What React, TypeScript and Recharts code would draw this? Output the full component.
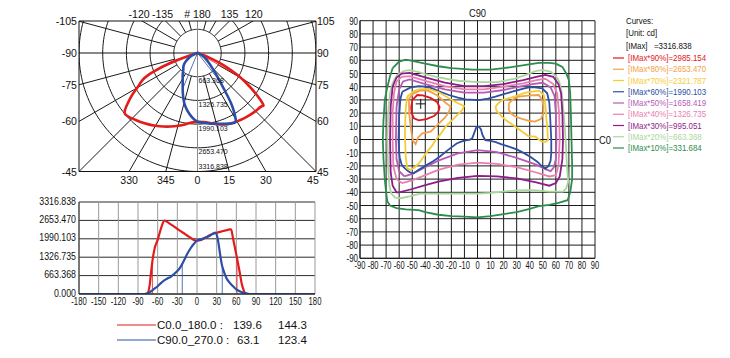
import React from 'react';
import { ComposedChart, Line, XAxis, YAxis, CartesianGrid, ReferenceLine, ReferenceDot, Scatter } from 'recharts';

const FONT = '"Liberation Sans", Arial, sans-serif';
const IMAX = 3316.838;
const RING_VALUES = [663.368, 1326.735, 1990.103, 2653.47, 3316.838];

// ---- photometric data (gamma angle in degrees, intensity in cd) ----
const c0Angles = [-180, -90, -80, -76, -72, -70, -67, -64, -60, -57, -53, -50, -45, -40, -35, -30, -25, -20, -15, -10, -5, 0, 5, 10, 15, 20, 25, 30, 35, 40, 45, 50, 52, 55, 58, 61, 65, 68, 71, 74, 80, 90, 180];
const c0Values = [0, 0, 0, 20, 350, 800, 1350, 1700, 1950, 2200, 2500, 2650, 2590, 2510, 2430, 2350, 2270, 2190, 2110, 2030, 1950, 1925, 1940, 1990, 2060, 2130, 2180, 2210, 2240, 2270, 2300, 2330, 2330, 2000, 1650, 1300, 800, 400, 150, 20, 0, 0, 0];
const c90Angles = [-180, -90, -80, -75, -70, -65, -60, -55, -50, -45, -40, -35, -30, -25, -20, -15, -10, -5, 0, 5, 10, 15, 20, 25, 28, 30, 33, 35, 38, 40, 45, 50, 55, 60, 65, 70, 75, 80, 90, 180];
const c90Values = [0, 0, 0, 30, 100, 190, 280, 390, 490, 560, 620, 720, 830, 980, 1200, 1440, 1640, 1800, 1925, 1960, 2010, 2050, 2110, 2180, 2210, 2140, 1800, 1470, 1050, 880, 570, 400, 280, 170, 100, 50, 20, 0, 0, 0];

const c0BeamAngles = [-68, 61];
const c0BeamValues = [1200, 1300];
const c90BeamAngles = [-22.5, 38.5];
const c90BeamValues = [1100, 1010];

const planeNames = ['C0.0_180.0 :', 'C90.0_270.0 :'];
const beamAngleText = ['139.6', '63.1'];
const fieldAngleText = ['144.3', '123.4'];

// polar frame labels
const polarBottomAngles = [-30, -15, 0, 15, 30, 45];
const polarBottomLabels = ['330', '345', '0', '15', '30', '45'];
const polarSideAngles = [45, 60, 75, 90, 105];
const polarLeftLabels = ['-45', '-60', '-75', '-90', '-105'];
const polarRightLabels = ['45', '60', '75', '90', '105'];
const polarTopAngles = [-120, -135, 180, 135, 120];
const polarTopLabels = ['-120', '-135', '# 180', '135', '120'];

// linear chart ticks
const linearXTicks = [-180, -150, -120, -90, -60, -30, 0, 30, 60, 90, 120, 150, 180];
const linearYTicks = [0, ...RING_VALUES];

// iso-candela contours: [C-angle, gamma] pairs
const contourTicks = [-90, -80, -70, -60, -50, -40, -30, -20, -10, 0, 10, 20, 30, 40, 50, 60, 70, 80, 90];
const levelNames = ['[IMax*90%]=2985.154', '[IMax*80%]=2653.470', '[IMax*70%]=2321.787', '[IMax*60%]=1990.103', '[IMax*50%]=1658.419', '[IMax*40%]=1326.735', '[IMax*30%]=995.051', '[IMax*20%]=663.368', '[IMax*10%]=331.684'];
const levelColors = ['#e3141b', '#f2a14a', '#f4cc38', '#2e4fa3', '#b65bb8', '#e97fb0', '#8e1c8c', '#a9d79b', '#2c8c4e'];

const red90L = [[-50, 29.9], [-46.1, 33.7], [-42, 33.5], [-36, 31.5], [-31, 28.5], [-29, 24.5], [-30, 21], [-33, 18], [-39, 15.5], [-45, 14.5], [-48.7, 16], [-50.4, 19.8], [-50.8, 24], [-50, 29.9]];
const orange80L = [[-52.5, 31], [-49, 35], [-44, 37], [-38, 37], [-31, 33.5], [-24, 27.5], [-20.6, 24.9], [-22, 20.5], [-25, 16.5], [-29.5, 12.2], [-35.9, 5.9], [-42.3, 4.6], [-45.5, 1.5], [-47.4, -3.5], [-49.4, -1], [-50.5, 5], [-51.5, 12], [-52.3, 20], [-52.5, 31]];
const orange80R = [[24, 27.4], [28, 31], [31.7, 32.4], [40, 33.5], [47, 33.7], [49.5, 29.9], [50.5, 25], [50.5, 19.8], [48.5, 15.5], [44, 13.5], [39.3, 14.2], [33, 16], [29.1, 17.3], [26, 19.5], [24, 22.3], [24, 27.4]];
const yellow70L = [[-53.8, 32.4], [-49, 36.5], [-44.8, 38], [-38, 38.3], [-30, 36], [-21.9, 31.2], [-15, 27.5], [-10.4, 25.4], [-11.5, 22.5], [-14.2, 19.8], [-19, 15], [-24.4, 9.7], [-28, 4.5], [-32, -0.4], [-35, -5], [-38.5, -9.2], [-41.5, -13.5], [-44.8, -18], [-48, -21], [-51.2, -23.1], [-53.8, -21.9], [-55, -13], [-55.6, 4.6], [-55.3, 15], [-55, 22.3], [-54.5, 28], [-53.8, 32.4]];
const yellow70R = [[13.8, 24.9], [16, 27.5], [18.9, 29.9], [25, 31.5], [30, 33], [36.8, 35.5], [43, 36.5], [47, 37], [50.8, 33.7], [52.1, 24.9], [52.8, 15], [53.4, 9.7], [53.8, 3], [54.1, -0.4], [52, -1.7], [49.2, -1.6], [44.4, 2.1], [38.9, 2.6], [34, 6], [29.1, 9.7], [25, 12.5], [21.5, 14.8], [18.5, 17.5], [16.4, 19.8], [14.5, 22], [13.8, 24.9]];
const blue60 = [[-57.6, 36.2], [-51.2, 39.5], [-44.8, 40.5], [-40, 40], [-34.6, 38.7], [-28, 36], [-21.9, 33.7], [-15, 31.8], [-9.1, 30.4], [1, 29.9], [8, 31], [13.8, 32.4], [20, 34.3], [26.6, 36.2], [33, 38], [39.3, 39.5], [44, 39.5], [49.5, 38.7], [53.4, 35], [55, 28], [55.5, 20], [56, 10], [56.5, 0], [56.5, -10], [56, -16], [54.5, -20], [52, -22], [49, -20], [46, -17], [41, -13.5], [36, -10.5], [30, -7.5], [24, -5.4], [18, -3.5], [14, -2], [10, -1], [6, -0.5], [4, 3], [2.5, 8], [1, 9.7], [-1, 9], [-2.5, 5], [-4, 1], [-6, -0.2], [-8, -0.4], [-12, -1.5], [-16, -3], [-22, -7.5], [-29, -13], [-34, -16.5], [-40, -20], [-45, -23], [-49, -25.6], [-51.5, -25], [-53, -24], [-56, -21.5], [-58, -19.3], [-59.5, -14], [-60, -10], [-60.5, 0], [-60.2, 10], [-60, 18], [-59.5, 25], [-59, 31], [-57.6, 36.2]];
const violet50 = [[-56, -28], [-50, -26], [-40, -21], [-30, -16], [-15, -10.5], [0, -8], [15, -9.5], [30, -14], [45, -19], [52, -22.5], [56, -24], [58.5, -21], [60, -15], [60.5, 0], [60, 20], [59, 33], [56, 39.5], [50, 43], [42, 42], [32, 40], [20, 37.5], [5, 35.5], [-10, 35.5], [-25, 38], [-40, 42], [-52, 45.5], [-57, 44], [-60, 38], [-62, 25], [-62.5, 0], [-62, -15], [-60, -24], [-56, -28]];
const pink40 = [[-58, -33], [-50, -31], [-40, -27], [-30, -23], [-15, -19], [0, -17.5], [15, -18.5], [30, -21], [45, -25], [55, -28], [60, -27], [62, -20], [63, 0], [62.5, 20], [61, 35], [58, 42], [52, 46], [45, 45], [35, 42.5], [20, 40], [5, 38], [-10, 38], [-25, 40.5], [-40, 44.5], [-52, 48], [-58, 47.5], [-62, 44], [-64, 35], [-65, 20], [-65, 0], [-64.5, -20], [-62, -30], [-58, -33]];
const purple30 = [[-60, -40], [-50, -37.5], [-40, -34.5], [-30, -32], [-15, -29], [0, -27.5], [15, -28], [30, -29.5], [45, -32.5], [55, -35], [60, -33], [63, -28], [65, -15], [65.5, 0], [65, 20], [64, 35], [62, 42], [58, 47.5], [52, 49], [45, 47.5], [35, 45], [20, 42], [5, 40.5], [-10, 40.5], [-25, 43], [-40, 47], [-52, 50.5], [-58, 50], [-62, 47], [-65, 40], [-66.5, 25], [-67, 0], [-66.5, -25], [-65, -35], [-62, -40], [-60, -40]];
const lightGreen20 = [[-64, 45], [-61.5, 49], [-56, 52], [-52, 52.5], [-45, 51], [-40, 49.5], [-30, 47], [-15, 44.5], [0, 43.5], [15, 43.5], [28, 46], [37, 49], [45, 52], [50, 52.5], [56, 51.5], [60, 48], [62.5, 44], [64.5, 36], [66, 20], [67.5, 0], [68.5, -20], [69.5, -32], [68, -37], [65.5, -39.5], [55, -39.5], [45, -38.5], [39, -38.3], [30, -38.5], [20, -39.5], [10, -40.5], [0, -41], [-20, -41], [-44, -41], [-52, -43], [-59, -44.5], [-63, -44], [-66, -41], [-67.5, -35], [-68.5, -20], [-69, 0], [-68.5, 20], [-67, 35], [-65.5, 41], [-64, 45]];
const green10 = [[-65, 54], [-60, 59], [-55, 60.5], [-50, 59.5], [-40, 57.5], [-30, 55.5], [-20, 54], [-4, 53], [10, 53], [20, 54], [37, 56.5], [47, 58], [55, 58], [60, 57.5], [65, 55], [68, 50], [70, 45], [71, 35], [71.5, 20], [72, 0], [72.5, -20], [72.5, -30], [71, -40], [69, -46], [62, -48], [55, -49.5], [47, -50.5], [40, -52.5], [30, -55], [20, -56.5], [10, -58], [0, -59], [-10, -58.5], [-20, -58], [-30, -57], [-40, -55], [-45, -53.5], [-55, -53], [-62, -52], [-67, -50], [-69, -47], [-70, -40], [-71, -30], [-72, -15], [-72.5, 0], [-72, 15], [-71, 30], [-69, 40], [-67, 48], [-65, 54]];
const imaxPoint = [{ x: -43.5, y: 27 }];

const contourSeries: { pts: number[][]; level: number }[] = [
  { pts: green10, level: 8 },
  { pts: lightGreen20, level: 7 },
  { pts: purple30, level: 6 },
  { pts: pink40, level: 5 },
  { pts: violet50, level: 4 },
  { pts: blue60, level: 3 },
  { pts: yellow70L, level: 2 },
  { pts: yellow70R, level: 2 },
  { pts: orange80L, level: 1 },
  { pts: orange80R, level: 1 },
  { pts: red90L, level: 0 },
];

// ---- helpers ----
const RED = '#e41b1b';
const BLUE = '#2b4ea6';
const rad = (d: number) => (d * Math.PI) / 180;
const polarPt = (g: number, v: number) => ({ x: v * Math.sin(rad(g)), y: -v * Math.cos(rad(g)) });

type TickOpts = { labels: string[]; anchor?: 'start' | 'middle' | 'end'; dx?: number; dy?: number; size?: number; sx?: number; shifts?: number[] };
const makeTick = (o: TickOpts) => (p: any) => (
  <g transform={`translate(${p.x + (o.dx ?? 0) + (o.shifts?.[p.index] ?? 0)},${p.y + (o.dy ?? 0)})`}>
    <text transform={`scale(${o.sx ?? 1},1)`} textAnchor={o.anchor ?? 'middle'} fontSize={o.size ?? 11} fontFamily={FONT} fill="#111">
      {o.labels[p.index] ?? ''}
    </text>
  </g>
);

// ---- polar chart geometry ----
const P_W = 340, P_H = 190, P_LEFT = 79, P_RIGHT = 24, P_TOP = 21, P_BOTTOM = 18.5;
const P_PLOT_W = P_W - P_LEFT - P_RIGHT;
const P_PLOT_H = P_H - P_TOP - P_BOTTOM;
const Y_TOP = IMAX * (P_PLOT_H / (P_PLOT_W / 2)) - IMAX;

const polarBottomTicks = polarBottomAngles.map((a) => IMAX * Math.tan(rad(a)));
const polarSideTicks = polarSideAngles.map((a) => -IMAX / Math.tan(rad(a)));
const polarTopTicks = polarTopAngles.map((a) => (Math.abs(a) === 180 ? 0 : Math.sign(a) * Y_TOP * Math.tan(rad(180 - Math.abs(a)))));

const ringData = RING_VALUES.map((r) => Array.from({ length: 181 }, (_, i) => ({ x: r * Math.cos(rad(i * 2)), y: r * Math.sin(rad(i * 2)) })));
const spokeAngles = [15, 30, 45, 60, 75, 105, 120, 135, 150, 165].flatMap((a) => [a, -a]);
const spokeData = spokeAngles.map((a) => [polarPt(a, RING_VALUES[0]), polarPt(a, IMAX * 3)]);

const c0Polar = c0Angles.filter((g) => Math.abs(g) <= 90).map((g) => polarPt(g, c0Values[c0Angles.indexOf(g)]));
const c90Polar = c90Angles.filter((g) => Math.abs(g) <= 90).map((g) => polarPt(g, c90Values[c90Angles.indexOf(g)]));
const beamPolar = [
  ...c0BeamAngles.map((g, i) => ({ color: RED, pts: [{ x: 0, y: 0 }, polarPt(g, c0BeamValues[i])] })),
  ...c90BeamAngles.map((g, i) => ({ color: BLUE, pts: [{ x: 0, y: 0 }, polarPt(g, c90BeamValues[i])] })),
];

function PolarChart() {
  return (
    <ComposedChart width={P_W} height={P_H} margin={{ top: 0, right: 0, bottom: 0, left: 0 }}>
      <XAxis type="number" dataKey="x" domain={[-IMAX, IMAX]} allowDataOverflow ticks={polarBottomTicks} interval={0} height={P_BOTTOM} tickSize={0} tickMargin={0} axisLine={{ stroke: '#111' }} tickLine={false} tick={makeTick({ labels: polarBottomLabels, dy: 12.5, size: 11.5, sx: 0.92, shifts: [0, 0, 0, 0, 0, -3] })} />
      <XAxis xAxisId="top" orientation="top" type="number" dataKey="x" domain={[-IMAX, IMAX]} allowDataOverflow ticks={polarTopTicks} interval={0} height={P_TOP} tickSize={0} tickMargin={0} axisLine={{ stroke: '#111' }} tickLine={false} tick={makeTick({ labels: polarTopLabels, dy: -3, size: 11.5, sx: 0.92, shifts: [-3, -3, 0, 0, 1] })} />
      <YAxis type="number" dataKey="y" domain={[-IMAX, Y_TOP]} allowDataOverflow ticks={polarSideTicks} interval={0} width={P_LEFT} tickSize={0} tickMargin={0} axisLine={{ stroke: '#111' }} tickLine={false} tick={makeTick({ labels: polarLeftLabels, anchor: 'end', dx: -2, dy: 4, size: 11.5, sx: 0.92 })} />
      <YAxis yAxisId="right" orientation="right" type="number" dataKey="y" domain={[-IMAX, Y_TOP]} allowDataOverflow ticks={polarSideTicks} interval={0} width={P_RIGHT} tickSize={0} tickMargin={0} axisLine={{ stroke: '#111' }} tickLine={false} tick={makeTick({ labels: polarRightLabels, anchor: 'start', dx: 1, dy: 4, size: 11.5, sx: 0.92 })} />
      {ringData.map((d, i) => (
        <Line key={`ring${i}`} data={d} dataKey="y" type="linear" dot={false} activeDot={false} stroke="#1a1a1a" strokeWidth={1} isAnimationActive={false} legendType="none" />
      ))}
      {spokeData.map((d, i) => (
        <Line key={`spoke${i}`} data={d} dataKey="y" type="linear" dot={false} activeDot={false} stroke="#1a1a1a" strokeWidth={1} isAnimationActive={false} legendType="none" />
      ))}
      <ReferenceLine y={0} stroke="#111" strokeWidth={1} />
      <ReferenceLine x={0} stroke="#8a8a8a" strokeWidth={1} />
      {RING_VALUES.map((v, i) => (
        <ReferenceDot key={`rl${i}`} x={0} y={-v} r={0} fill="none" stroke="none"
          label={(p: any) => (
            <text x={(p.viewBox?.x ?? 0) + 1} y={(p.viewBox?.y ?? 0) + (i === 4 ? -3 : 6.5)} fontSize={7} fontFamily={FONT} fill="#111">
              {v.toFixed(3)}
            </text>
          )} />
      ))}
      {beamPolar.map((b, i) => (
        <Line key={`bp${i}`} data={b.pts} dataKey="y" type="linear" dot={false} activeDot={false} stroke={b.color} strokeWidth={0.8} isAnimationActive={false} legendType="none" />
      ))}
      <Line data={c0Polar} dataKey="y" type="natural" dot={false} activeDot={false} stroke={RED} strokeWidth={2.6} isAnimationActive={false} legendType="none" />
      <Line data={c90Polar} dataKey="y" type="natural" dot={false} activeDot={false} stroke={BLUE} strokeWidth={2.6} isAnimationActive={false} legendType="none" />
    </ComposedChart>
  );
}

// ---- linear chart ----
const c0Linear = c0Angles.map((g, i) => ({ x: g, y: c0Values[i] }));
const c90Linear = c90Angles.map((g, i) => ({ x: g, y: c90Values[i] }));

function LinearChart() {
  return (
    <ComposedChart width={340} height={120} margin={{ top: 12, right: 25, bottom: 0, left: 0 }}>
      <CartesianGrid vertical={false} stroke="#2a2a2a" strokeWidth={1} />
      <CartesianGrid horizontal={false} stroke="#9a9a9a" strokeWidth={1} />
      <XAxis type="number" dataKey="x" domain={[-180, 180]} allowDataOverflow ticks={linearXTicks} interval={0} height={16} tickSize={0} tickMargin={0} axisLine={{ stroke: '#222' }} tickLine={false} tick={makeTick({ labels: linearXTicks.map(String), dy: 10.5, size: 11, sx: 0.7 })} />
      <YAxis type="number" dataKey="y" domain={[0, IMAX]} allowDataOverflow ticks={linearYTicks} interval={0} width={79} tickSize={0} tickMargin={0} axisLine={{ stroke: '#222' }} tickLine={false} tick={makeTick({ labels: linearYTicks.map((v) => v.toFixed(3)), anchor: 'end', dx: -3, dy: 2.5, size: 11, sx: 0.8 })} />
      {c0BeamAngles.map((a, i) => (
        <ReferenceLine key={`rb${i}`} segment={[{ x: a, y: 0 }, { x: a, y: c0BeamValues[i] }]} stroke={RED} strokeWidth={0.8} />
      ))}
      {c90BeamAngles.map((a, i) => (
        <ReferenceLine key={`bb${i}`} segment={[{ x: a, y: 0 }, { x: a, y: c90BeamValues[i] }]} stroke={BLUE} strokeWidth={0.8} />
      ))}
      <Line data={c0Linear} dataKey="y" type="monotone" dot={false} activeDot={false} stroke={RED} strokeWidth={2.2} isAnimationActive={false} legendType="none" />
      <Line data={c90Linear} dataKey="y" type="monotone" dot={false} activeDot={false} stroke={BLUE} strokeWidth={2.2} isAnimationActive={false} legendType="none" />
    </ComposedChart>
  );
}

function LinearLegend() {
  const colors = [RED, BLUE];
  return (
    <svg width={240} height={42} style={{ position: 'absolute', left: 100, top: 314 }}>
      {planeNames.map((n, i) => {
        const y = 11 + i * 15;
        return (
          <g key={n}>
            <line x1={17} x2={56} y1={y} y2={y} stroke={colors[i]} strokeWidth={1.2} />
            <text x={57} y={y + 4} fontSize={11.5} fontFamily={FONT} fill="#111">{n}</text>
            <text x={i === 0 ? 133 : 137} y={y + 4} fontSize={11.5} fontFamily={FONT} fill="#111">{beamAngleText[i]}</text>
            <text x={178} y={y + 4} fontSize={11.5} fontFamily={FONT} fill="#111">{fieldAngleText[i]}</text>
          </g>
        );
      })}
    </svg>
  );
}

// ---- contour chart ----
function ContourChart() {
  return (
    <ComposedChart width={315} height={280} margin={{ top: 0, right: 0, bottom: 0, left: 0 }}>
      <CartesianGrid stroke="#1c1c1c" strokeWidth={1} />
      <XAxis type="number" dataKey="x" domain={[-90, 90]} allowDataOverflow ticks={contourTicks} interval={0} height={21.7} tickSize={0} tickMargin={0} axisLine={{ stroke: '#1c1c1c' }} tickLine={false} tick={makeTick({ labels: contourTicks.map(String), dy: 10.8, size: 11, sx: 0.68 })} />
      <XAxis xAxisId="top" orientation="top" type="number" dataKey="x" domain={[-90, 90]} allowDataOverflow ticks={[0]} interval={0} height={20.7} tickSize={0} tickMargin={0} axisLine={false} tickLine={false} tick={makeTick({ labels: ['C90'], dy: -4, size: 11, sx: 0.85 })} />
      <YAxis type="number" dataKey="y" domain={[-90, 90]} allowDataOverflow ticks={contourTicks} interval={0} width={60} tickSize={0} tickMargin={0} axisLine={{ stroke: '#1c1c1c' }} tickLine={false} tick={makeTick({ labels: contourTicks.map(String), anchor: 'end', dx: -2, dy: 4, size: 11, sx: 0.72 })} />
      <YAxis yAxisId="right" orientation="right" type="number" dataKey="y" domain={[-90, 90]} allowDataOverflow ticks={[0]} interval={0} width={20} tickSize={4} tickMargin={0} axisLine={false} tickLine={{ stroke: '#1c1c1c' }} tick={makeTick({ labels: ['C0'], anchor: 'start', dx: 0, dy: 4, size: 11, sx: 0.85 })} />
      {contourSeries.map((c, i) => (
        <Line key={`ct${i}`} data={c.pts.map(([x, y]) => ({ x, y }))} dataKey="y" type="linear" dot={false} activeDot={false} stroke={levelColors[c.level]} strokeWidth={1.8} isAnimationActive={false} legendType="none" />
      ))}
      <Scatter data={imaxPoint} dataKey="y" isAnimationActive={false} legendType="none"
        shape={(p: any) => <path d={`M${p.cx - 5},${p.cy}h10M${p.cx},${p.cy - 5}v10`} stroke="#111" strokeWidth={1} fill="none" />} />
    </ComposedChart>
  );
}

function ContourLegend() {
  const t = (x: number, y: number, s: string, fill = '#111') => (
    <g transform={`translate(${x},${y})`}>
      <text transform="scale(0.88,1)" fontSize={9} fontFamily={FONT} fill={fill}>{s}</text>
    </g>
  );
  return (
    <svg width={130} height={160} style={{ position: 'absolute', left: 600, top: 0 }}>
      {t(26, 24, 'Curves:')}
      {t(26, 36, '[Unit: cd]')}
      {t(26, 49, '[IMax]')}
      {t(54, 49, '=3316.838')}
      {levelNames.map((n, i) => {
        const y = 58 + i * 11.25;
        return (
          <g key={n}>
            <line x1={13} x2={24} y1={y} y2={y} stroke={levelColors[i]} strokeWidth={1.2} />
            {t(28, y + 3, n, levelColors[i])}
          </g>
        );
      })}
    </svg>
  );
}

export default function App() {
  return (
    <div style={{ position: 'absolute', left: 0, top: 0, width: 730, height: 358, background: '#fff', overflow: 'hidden' }}>
      <div style={{ position: 'absolute', left: 0, top: 0 }}>
        <PolarChart />
      </div>
      <div style={{ position: 'absolute', left: 0, top: 190 }}>
        <LinearChart />
      </div>
      <LinearLegend />
      <div style={{ position: 'absolute', left: 300, top: 0 }}>
        <ContourChart />
      </div>
      <ContourLegend />
    </div>
  );
}
